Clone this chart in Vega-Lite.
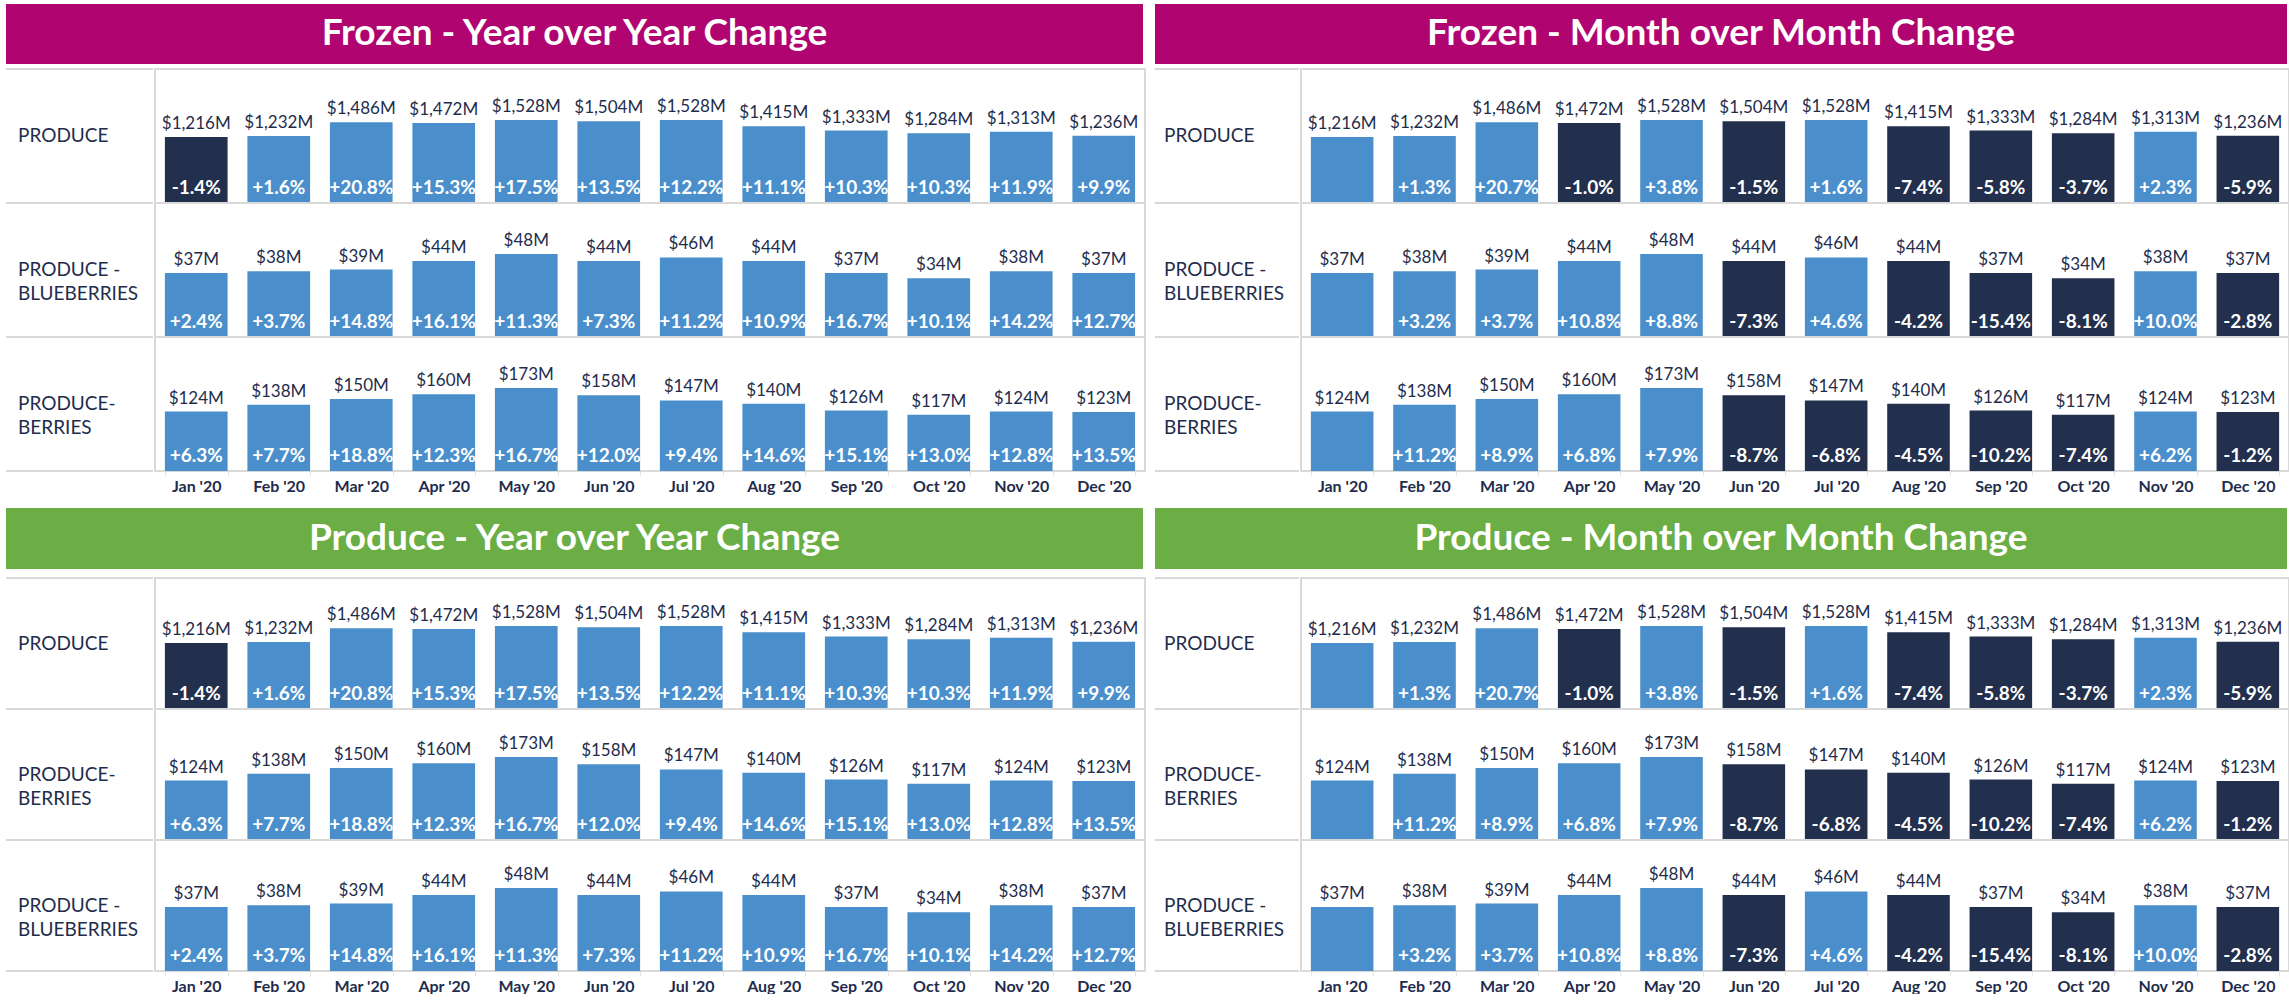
{
  "$schema": "https://vega.github.io/schema/vega-lite/v6.json",
  "background": "white",
  "padding": {"left": 5, "top": 4, "right": 0, "bottom": 0},
  "config": {
    "locale": {"number": {"decimal": ".", "thousands": ",", "grouping": [3], "currency": ["$", "M"], "minus": "-"}},
    "view": {"stroke": "#d9d9d9", "strokeWidth": 2},
    "font": "Lato"
  },
  "datasets": {
    "labels": [
      {"cat": "PRODUCE", "label": "PRODUCE"},
      {"cat": "PRODUCE - BLUEBERRIES", "label": "PRODUCE -\nBLUEBERRIES"},
      {"cat": "PRODUCE-BERRIES", "label": "PRODUCE-\nBERRIES"}
    ],
    "sales": [
      {"month": "Jan '20", "cat": "PRODUCE", "value": 1216, "yoy": -0.014, "mom": null},
      {"month": "Feb '20", "cat": "PRODUCE", "value": 1232, "yoy": 0.016, "mom": 0.013},
      {"month": "Mar '20", "cat": "PRODUCE", "value": 1486, "yoy": 0.208, "mom": 0.207},
      {"month": "Apr '20", "cat": "PRODUCE", "value": 1472, "yoy": 0.153, "mom": -0.010},
      {"month": "May '20", "cat": "PRODUCE", "value": 1528, "yoy": 0.175, "mom": 0.038},
      {"month": "Jun '20", "cat": "PRODUCE", "value": 1504, "yoy": 0.135, "mom": -0.015},
      {"month": "Jul '20", "cat": "PRODUCE", "value": 1528, "yoy": 0.122, "mom": 0.016},
      {"month": "Aug '20", "cat": "PRODUCE", "value": 1415, "yoy": 0.111, "mom": -0.074},
      {"month": "Sep '20", "cat": "PRODUCE", "value": 1333, "yoy": 0.103, "mom": -0.058},
      {"month": "Oct '20", "cat": "PRODUCE", "value": 1284, "yoy": 0.103, "mom": -0.037},
      {"month": "Nov '20", "cat": "PRODUCE", "value": 1313, "yoy": 0.119, "mom": 0.023},
      {"month": "Dec '20", "cat": "PRODUCE", "value": 1236, "yoy": 0.099, "mom": -0.059},
      {"month": "Jan '20", "cat": "PRODUCE - BLUEBERRIES", "value": 37, "yoy": 0.024, "mom": null},
      {"month": "Feb '20", "cat": "PRODUCE - BLUEBERRIES", "value": 38, "yoy": 0.037, "mom": 0.032},
      {"month": "Mar '20", "cat": "PRODUCE - BLUEBERRIES", "value": 39, "yoy": 0.148, "mom": 0.037},
      {"month": "Apr '20", "cat": "PRODUCE - BLUEBERRIES", "value": 44, "yoy": 0.161, "mom": 0.108},
      {"month": "May '20", "cat": "PRODUCE - BLUEBERRIES", "value": 48, "yoy": 0.113, "mom": 0.088},
      {"month": "Jun '20", "cat": "PRODUCE - BLUEBERRIES", "value": 44, "yoy": 0.073, "mom": -0.073},
      {"month": "Jul '20", "cat": "PRODUCE - BLUEBERRIES", "value": 46, "yoy": 0.112, "mom": 0.046},
      {"month": "Aug '20", "cat": "PRODUCE - BLUEBERRIES", "value": 44, "yoy": 0.109, "mom": -0.042},
      {"month": "Sep '20", "cat": "PRODUCE - BLUEBERRIES", "value": 37, "yoy": 0.167, "mom": -0.154},
      {"month": "Oct '20", "cat": "PRODUCE - BLUEBERRIES", "value": 34, "yoy": 0.101, "mom": -0.081},
      {"month": "Nov '20", "cat": "PRODUCE - BLUEBERRIES", "value": 38, "yoy": 0.142, "mom": 0.100},
      {"month": "Dec '20", "cat": "PRODUCE - BLUEBERRIES", "value": 37, "yoy": 0.127, "mom": -0.028},
      {"month": "Jan '20", "cat": "PRODUCE-BERRIES", "value": 124, "yoy": 0.063, "mom": null},
      {"month": "Feb '20", "cat": "PRODUCE-BERRIES", "value": 138, "yoy": 0.077, "mom": 0.112},
      {"month": "Mar '20", "cat": "PRODUCE-BERRIES", "value": 150, "yoy": 0.188, "mom": 0.089},
      {"month": "Apr '20", "cat": "PRODUCE-BERRIES", "value": 160, "yoy": 0.123, "mom": 0.068},
      {"month": "May '20", "cat": "PRODUCE-BERRIES", "value": 173, "yoy": 0.167, "mom": 0.079},
      {"month": "Jun '20", "cat": "PRODUCE-BERRIES", "value": 158, "yoy": 0.120, "mom": -0.087},
      {"month": "Jul '20", "cat": "PRODUCE-BERRIES", "value": 147, "yoy": 0.094, "mom": -0.068},
      {"month": "Aug '20", "cat": "PRODUCE-BERRIES", "value": 140, "yoy": 0.146, "mom": -0.045},
      {"month": "Sep '20", "cat": "PRODUCE-BERRIES", "value": 126, "yoy": 0.151, "mom": -0.102},
      {"month": "Oct '20", "cat": "PRODUCE-BERRIES", "value": 117, "yoy": 0.130, "mom": -0.074},
      {"month": "Nov '20", "cat": "PRODUCE-BERRIES", "value": 124, "yoy": 0.128, "mom": 0.062},
      {"month": "Dec '20", "cat": "PRODUCE-BERRIES", "value": 123, "yoy": 0.135, "mom": -0.012}
    ]
  },
  "spacing": 14,
  "vconcat": [
    {
      "spacing": 8,
      "hconcat": [
        {
          "spacing": 4,
          "vconcat": [
            {
              "data": {"values": [{"title": "Frozen - Year over Year Change"}]},
              "width": 1137, "height": 60,
              "view": {"fill": "#B00570", "stroke": null},
              "mark": {"type": "text", "font": "Lato", "fontSize": 37, "fontWeight": "bold", "color": "white", "align": "center", "baseline": "middle"},
              "encoding": {"text": {"field": "title"}}
            },
            {
              "spacing": 0,
              "hconcat": [
                {
                  "data": {"name": "labels"},
                  "spacing": 0,
                  "bounds": "flush",
                  "facet": {"row": {"field": "cat", "type": "nominal", "title": null, "header": {"labels": false},
                    "sort": ["PRODUCE", "PRODUCE - BLUEBERRIES", "PRODUCE-BERRIES"]}},
                  "spec": {
                    "width": 147, "height": 134,
                    "view": {"stroke": null},
                    "layer": [
                      {"mark": {"type": "rule", "color": "#d9d9d9", "strokeWidth": 2},
                       "encoding": {"y": {"datum": 0, "type": "quantitative", "scale": {"domain": [0, 1]}, "axis": null}}},
                      {"mark": {"type": "rule", "color": "#d9d9d9", "strokeWidth": 2},
                       "encoding": {"y": {"datum": 1, "type": "quantitative"}}},
                      {"mark": {"type": "text", "font": "Lato", "fontSize": 19, "color": "#1F2D4D", "align": "left", "baseline": "middle", "lineBreak": "\n", "lineHeight": 24, "dx": 12},
                       "encoding": {"x": {"datum": 0, "type": "quantitative", "scale": {"domain": [0, 1]}, "axis": null}, "text": {"field": "label"}}}
                    ]
                  }
                },
                {
                  "data": {"name": "sales"},
                  "spacing": 0,
                  "bounds": "flush",
                  "facet": {"row": {"field": "cat", "type": "nominal", "title": null, "header": {"labels": false},
                    "sort": ["PRODUCE", "PRODUCE - BLUEBERRIES", "PRODUCE-BERRIES"]}},
                  "resolve": {"scale": {"y": "independent"}},
                  "spec": {
                    "width": 990, "height": 134,
                    "encoding": {
                      "x": {"field": "month", "type": "nominal", "sort": ["Jan '20","Feb '20","Mar '20","Apr '20","May '20","Jun '20","Jul '20","Aug '20","Sep '20","Oct '20","Nov '20","Dec '20"],
                        "scale": {"paddingInner": 0.24, "paddingOuter": 0.12},
                        "axis": {"title": null, "labelAngle": 0, "labelFont": "Lato", "labelFontSize": 16, "labelFontWeight": "bold", "labelColor": "#1F2D4D", "domain": false, "ticks": true, "tickBand": "extent", "tickColor": "#e6e6e6", "tickSize": 5, "labelPadding": 2}}
                    },
                    "layer": [
                      {"mark": {"type": "bar"},
                       "encoding": {"y": {"field": "value", "type": "quantitative", "scale": {"zero": true, "nice": false, "rangeMax": 51}, "axis": null},
                         "color": {"condition": {"test": "datum.yoy < 0", "value": "#222F4D"}, "value": "#4A8FCC"}}},
                      {"mark": {"type": "text", "font": "Lato", "fontSize": 17, "color": "#1F2D4D", "baseline": "alphabetic", "dy": -8},
                       "encoding": {"y": {"field": "value", "type": "quantitative"}, "text": {"field": "value", "type": "quantitative", "format": "$,.0f"}}},
                      {"transform": [{"filter": "isValid(datum.yoy)"}],
                       "mark": {"type": "text", "font": "Lato", "fontSize": 19, "fontWeight": "bold", "color": "white", "baseline": "alphabetic", "dy": -9},
                       "encoding": {"y": {"datum": 0, "type": "quantitative"}, "text": {"field": "yoy", "type": "quantitative", "format": "+.1%"}}}
                    ]
                  }
                }
              ]
            }
          ]
        },
        {
          "spacing": 4,
          "vconcat": [
            {
              "data": {"values": [{"title": "Frozen - Month over Month Change"}]},
              "width": 1132, "height": 60,
              "view": {"fill": "#B00570", "stroke": null},
              "mark": {"type": "text", "font": "Lato", "fontSize": 37, "fontWeight": "bold", "color": "white", "align": "center", "baseline": "middle"},
              "encoding": {"text": {"field": "title"}}
            },
            {
              "spacing": 0,
              "hconcat": [
                {
                  "data": {"name": "labels"},
                  "spacing": 0,
                  "bounds": "flush",
                  "facet": {"row": {"field": "cat", "type": "nominal", "title": null, "header": {"labels": false},
                    "sort": ["PRODUCE", "PRODUCE - BLUEBERRIES", "PRODUCE-BERRIES"]}},
                  "spec": {
                    "width": 144, "height": 134,
                    "view": {"stroke": null},
                    "layer": [
                      {"mark": {"type": "rule", "color": "#d9d9d9", "strokeWidth": 2},
                       "encoding": {"y": {"datum": 0, "type": "quantitative", "scale": {"domain": [0, 1]}, "axis": null}}},
                      {"mark": {"type": "rule", "color": "#d9d9d9", "strokeWidth": 2},
                       "encoding": {"y": {"datum": 1, "type": "quantitative"}}},
                      {"mark": {"type": "text", "font": "Lato", "fontSize": 19, "color": "#1F2D4D", "align": "left", "baseline": "middle", "lineBreak": "\n", "lineHeight": 24, "dx": 9},
                       "encoding": {"x": {"datum": 0, "type": "quantitative", "scale": {"domain": [0, 1]}, "axis": null}, "text": {"field": "label"}}}
                    ]
                  }
                },
                {
                  "data": {"name": "sales"},
                  "spacing": 0,
                  "bounds": "flush",
                  "facet": {"row": {"field": "cat", "type": "nominal", "title": null, "header": {"labels": false},
                    "sort": ["PRODUCE", "PRODUCE - BLUEBERRIES", "PRODUCE-BERRIES"]}},
                  "resolve": {"scale": {"y": "independent"}},
                  "spec": {
                    "width": 988, "height": 134,
                    "encoding": {
                      "x": {"field": "month", "type": "nominal", "sort": ["Jan '20","Feb '20","Mar '20","Apr '20","May '20","Jun '20","Jul '20","Aug '20","Sep '20","Oct '20","Nov '20","Dec '20"],
                        "scale": {"paddingInner": 0.24, "paddingOuter": 0.12},
                        "axis": {"title": null, "labelAngle": 0, "labelFont": "Lato", "labelFontSize": 16, "labelFontWeight": "bold", "labelColor": "#1F2D4D", "domain": false, "ticks": true, "tickBand": "extent", "tickColor": "#e6e6e6", "tickSize": 5, "labelPadding": 2}}
                    },
                    "layer": [
                      {"mark": {"type": "bar"},
                       "encoding": {"y": {"field": "value", "type": "quantitative", "scale": {"zero": true, "nice": false, "rangeMax": 51}, "axis": null},
                         "color": {"condition": {"test": "datum.mom < 0", "value": "#222F4D"}, "value": "#4A8FCC"}}},
                      {"mark": {"type": "text", "font": "Lato", "fontSize": 17, "color": "#1F2D4D", "baseline": "alphabetic", "dy": -8},
                       "encoding": {"y": {"field": "value", "type": "quantitative"}, "text": {"field": "value", "type": "quantitative", "format": "$,.0f"}}},
                      {"transform": [{"filter": "isValid(datum.mom)"}],
                       "mark": {"type": "text", "font": "Lato", "fontSize": 19, "fontWeight": "bold", "color": "white", "baseline": "alphabetic", "dy": -9},
                       "encoding": {"y": {"datum": 0, "type": "quantitative"}, "text": {"field": "mom", "type": "quantitative", "format": "+.1%"}}}
                    ]
                  }
                }
              ]
            }
          ]
        }
      ]
    },
    {
      "spacing": 8,
      "hconcat": [
        {
          "spacing": 8,
          "vconcat": [
            {
              "data": {"values": [{"title": "Produce - Year over Year Change"}]},
              "width": 1137, "height": 61,
              "view": {"fill": "#6AAE45", "stroke": null},
              "mark": {"type": "text", "font": "Lato", "fontSize": 37, "fontWeight": "bold", "color": "white", "align": "center", "baseline": "middle"},
              "encoding": {"text": {"field": "title"}}
            },
            {
              "spacing": 0,
              "hconcat": [
                {
                  "data": {"name": "labels"},
                  "spacing": 0,
                  "bounds": "flush",
                  "facet": {"row": {"field": "cat", "type": "nominal", "title": null, "header": {"labels": false},
                    "sort": ["PRODUCE", "PRODUCE-BERRIES", "PRODUCE - BLUEBERRIES"]}},
                  "spec": {
                    "width": 147, "height": 131,
                    "view": {"stroke": null},
                    "layer": [
                      {"mark": {"type": "rule", "color": "#d9d9d9", "strokeWidth": 2},
                       "encoding": {"y": {"datum": 0, "type": "quantitative", "scale": {"domain": [0, 1]}, "axis": null}}},
                      {"mark": {"type": "rule", "color": "#d9d9d9", "strokeWidth": 2},
                       "encoding": {"y": {"datum": 1, "type": "quantitative"}}},
                      {"mark": {"type": "text", "font": "Lato", "fontSize": 19, "color": "#1F2D4D", "align": "left", "baseline": "middle", "lineBreak": "\n", "lineHeight": 24, "dx": 12},
                       "encoding": {"x": {"datum": 0, "type": "quantitative", "scale": {"domain": [0, 1]}, "axis": null}, "text": {"field": "label"}}}
                    ]
                  }
                },
                {
                  "data": {"name": "sales"},
                  "spacing": 0,
                  "bounds": "flush",
                  "facet": {"row": {"field": "cat", "type": "nominal", "title": null, "header": {"labels": false},
                    "sort": ["PRODUCE", "PRODUCE-BERRIES", "PRODUCE - BLUEBERRIES"]}},
                  "resolve": {"scale": {"y": "independent"}},
                  "spec": {
                    "width": 990, "height": 131,
                    "encoding": {
                      "x": {"field": "month", "type": "nominal", "sort": ["Jan '20","Feb '20","Mar '20","Apr '20","May '20","Jun '20","Jul '20","Aug '20","Sep '20","Oct '20","Nov '20","Dec '20"],
                        "scale": {"paddingInner": 0.24, "paddingOuter": 0.12},
                        "axis": {"title": null, "labelAngle": 0, "labelFont": "Lato", "labelFontSize": 16, "labelFontWeight": "bold", "labelColor": "#1F2D4D", "domain": false, "ticks": true, "tickBand": "extent", "tickColor": "#e6e6e6", "tickSize": 5, "labelPadding": 2}}
                    },
                    "layer": [
                      {"mark": {"type": "bar"},
                       "encoding": {"y": {"field": "value", "type": "quantitative", "scale": {"zero": true, "nice": false, "rangeMax": 48}, "axis": null},
                         "color": {"condition": {"test": "datum.yoy < 0", "value": "#222F4D"}, "value": "#4A8FCC"}}},
                      {"mark": {"type": "text", "font": "Lato", "fontSize": 17, "color": "#1F2D4D", "baseline": "alphabetic", "dy": -8},
                       "encoding": {"y": {"field": "value", "type": "quantitative"}, "text": {"field": "value", "type": "quantitative", "format": "$,.0f"}}},
                      {"transform": [{"filter": "isValid(datum.yoy)"}],
                       "mark": {"type": "text", "font": "Lato", "fontSize": 19, "fontWeight": "bold", "color": "white", "baseline": "alphabetic", "dy": -9},
                       "encoding": {"y": {"datum": 0, "type": "quantitative"}, "text": {"field": "yoy", "type": "quantitative", "format": "+.1%"}}}
                    ]
                  }
                }
              ]
            }
          ]
        },
        {
          "spacing": 8,
          "vconcat": [
            {
              "data": {"values": [{"title": "Produce - Month over Month Change"}]},
              "width": 1132, "height": 61,
              "view": {"fill": "#6AAE45", "stroke": null},
              "mark": {"type": "text", "font": "Lato", "fontSize": 37, "fontWeight": "bold", "color": "white", "align": "center", "baseline": "middle"},
              "encoding": {"text": {"field": "title"}}
            },
            {
              "spacing": 0,
              "hconcat": [
                {
                  "data": {"name": "labels"},
                  "spacing": 0,
                  "bounds": "flush",
                  "facet": {"row": {"field": "cat", "type": "nominal", "title": null, "header": {"labels": false},
                    "sort": ["PRODUCE", "PRODUCE-BERRIES", "PRODUCE - BLUEBERRIES"]}},
                  "spec": {
                    "width": 144, "height": 131,
                    "view": {"stroke": null},
                    "layer": [
                      {"mark": {"type": "rule", "color": "#d9d9d9", "strokeWidth": 2},
                       "encoding": {"y": {"datum": 0, "type": "quantitative", "scale": {"domain": [0, 1]}, "axis": null}}},
                      {"mark": {"type": "rule", "color": "#d9d9d9", "strokeWidth": 2},
                       "encoding": {"y": {"datum": 1, "type": "quantitative"}}},
                      {"mark": {"type": "text", "font": "Lato", "fontSize": 19, "color": "#1F2D4D", "align": "left", "baseline": "middle", "lineBreak": "\n", "lineHeight": 24, "dx": 9},
                       "encoding": {"x": {"datum": 0, "type": "quantitative", "scale": {"domain": [0, 1]}, "axis": null}, "text": {"field": "label"}}}
                    ]
                  }
                },
                {
                  "data": {"name": "sales"},
                  "spacing": 0,
                  "bounds": "flush",
                  "facet": {"row": {"field": "cat", "type": "nominal", "title": null, "header": {"labels": false},
                    "sort": ["PRODUCE", "PRODUCE-BERRIES", "PRODUCE - BLUEBERRIES"]}},
                  "resolve": {"scale": {"y": "independent"}},
                  "spec": {
                    "width": 988, "height": 131,
                    "encoding": {
                      "x": {"field": "month", "type": "nominal", "sort": ["Jan '20","Feb '20","Mar '20","Apr '20","May '20","Jun '20","Jul '20","Aug '20","Sep '20","Oct '20","Nov '20","Dec '20"],
                        "scale": {"paddingInner": 0.24, "paddingOuter": 0.12},
                        "axis": {"title": null, "labelAngle": 0, "labelFont": "Lato", "labelFontSize": 16, "labelFontWeight": "bold", "labelColor": "#1F2D4D", "domain": false, "ticks": true, "tickBand": "extent", "tickColor": "#e6e6e6", "tickSize": 5, "labelPadding": 2}}
                    },
                    "layer": [
                      {"mark": {"type": "bar"},
                       "encoding": {"y": {"field": "value", "type": "quantitative", "scale": {"zero": true, "nice": false, "rangeMax": 48}, "axis": null},
                         "color": {"condition": {"test": "datum.mom < 0", "value": "#222F4D"}, "value": "#4A8FCC"}}},
                      {"mark": {"type": "text", "font": "Lato", "fontSize": 17, "color": "#1F2D4D", "baseline": "alphabetic", "dy": -8},
                       "encoding": {"y": {"field": "value", "type": "quantitative"}, "text": {"field": "value", "type": "quantitative", "format": "$,.0f"}}},
                      {"transform": [{"filter": "isValid(datum.mom)"}],
                       "mark": {"type": "text", "font": "Lato", "fontSize": 19, "fontWeight": "bold", "color": "white", "baseline": "alphabetic", "dy": -9},
                       "encoding": {"y": {"datum": 0, "type": "quantitative"}, "text": {"field": "mom", "type": "quantitative", "format": "+.1%"}}}
                    ]
                  }
                }
              ]
            }
          ]
        }
      ]
    }
  ]
}
